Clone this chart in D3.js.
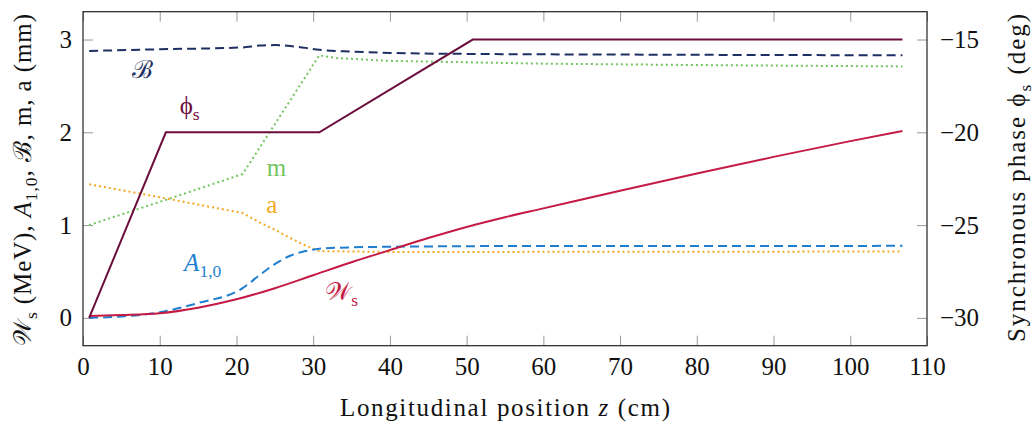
<!DOCTYPE html>
<html>
<head>
<meta charset="utf-8">
<script src="https://cdn.jsdelivr.net/npm/d3@7"></script>
<style>
body { margin: 0; background: #fff; }
text { font-family: "Liberation Serif", "DejaVu Serif", serif; }
</style>
</head>
<body>
<svg id="chart"></svg>
<script>
// longitudinal positions (cm) and values
var zPhi = [0.8, 10.8, 30.8, 50.8, 106.8]
var phiS = [-30, -20, -20, -15, -15]            // deg, right axis

var zW = [0.8, 5, 10, 15, 20, 25, 30, 35, 40, 45, 50, 55, 60, 70, 80, 90, 100, 106.8]
var wS = [0.02, 0.03, 0.05, 0.11, 0.2, 0.32, 0.46, 0.6, 0.73, 0.86, 0.98, 1.085, 1.18, 1.37, 1.555, 1.735, 1.905, 2.015]

var zA = [0.8, 5, 10, 15, 20.8, 23, 25, 27, 29, 30.8, 35, 45, 60, 106.8]
var a10 = [0, 0.015, 0.06, 0.16, 0.32, 0.46, 0.58, 0.67, 0.72, 0.745, 0.76, 0.77, 0.775, 0.776]

var zAp = [0.8, 10, 20.8, 23, 25, 27, 29, 30.8, 40, 106.8]
var aper = [1.44, 1.3, 1.13, 1.03, 0.95, 0.86, 0.78, 0.72, 0.71, 0.715]

var zM = [0.8, 10, 20.8, 30.8, 33, 40, 50, 60, 80, 106.8]
var mod = [1.0, 1.25, 1.55, 2.83, 2.8, 2.77, 2.755, 2.74, 2.725, 2.71]

var zB = [0.8, 10, 20.8, 23, 25, 27, 29, 30.8, 35, 40, 50, 70, 106.8]
var bB = [2.877, 2.895, 2.915, 2.935, 2.94, 2.93, 2.91, 2.89, 2.87, 2.856, 2.845, 2.838, 2.83]

var xTicks = d3.range(0, 111, 10)
var yTicks = [0, 1, 2, 3]
var phiTicks = [-30, -25, -20, -15]

var W = 1036, H = 426
var margin = {top: 11.7, right: 109, bottom: 80.3, left: 83}
var iw = W - margin.left - margin.right,
    ih = H - margin.top - margin.bottom

var svg = d3.select("#chart").attr("width", W).attr("height", H)
var g = svg.append("g").attr("transform", `translate(${margin.left},${margin.top})`)

var x = d3.scaleLinear().domain([0, 110]).range([0, iw]),
    y = d3.scaleLinear().domain([-0.3, 3.3]).range([ih, 0]),
    yPhi = d3.scaleLinear().domain([-31.5, -13.5]).range([ih, 0])

var fs = 25
var serif = '"Liberation Serif", "DejaVu Serif", serif'

function styleAxis(sel) {
    sel.attr("font-family", serif).attr("font-size", fs)
    sel.select(".domain").remove()
    sel.selectAll(".tick line").attr("stroke", "#999").attr("stroke-width", 1)
    sel.selectAll(".tick text").attr("fill", "#111")
}

g.append("g").attr("transform", `translate(0,${ih})`)
    .call(d3.axisBottom(x).tickValues(xTicks).tickSize(-10).tickPadding(11.5))
    .call(styleAxis)
g.append("g")
    .call(d3.axisTop(x).tickValues(xTicks).tickSize(-10).tickFormat(""))
    .call(styleAxis)
g.append("g")
    .call(d3.axisLeft(y).tickValues(yTicks).tickSize(-10).tickPadding(11).tickFormat(d3.format("d")))
    .call(styleAxis)
g.append("g").attr("transform", `translate(${iw},0)`)
    .call(d3.axisRight(yPhi).tickValues(phiTicks).tickSize(-10).tickPadding(13).tickFormat(d3.format("d")))
    .call(styleAxis)

g.append("rect").attr("width", iw).attr("height", ih)
    .attr("fill", "none").attr("stroke", "#222").attr("stroke-width", 1.2)

var series = [
    {xs: zB, ys: bB, color: "#1e2f63", dash: "9,5", scale: y, curve: d3.curveMonotoneX},
    {xs: zM, ys: mod, color: "#72c45e", dash: "2,3", scale: y, curve: d3.curveLinear},
    {xs: zAp, ys: aper, color: "#f2a922", dash: "2,3", scale: y, curve: d3.curveLinear},
    {xs: zA, ys: a10, color: "#1f7fcf", dash: "9,5", scale: y, curve: d3.curveMonotoneX},
    {xs: zW, ys: wS, color: "#c41a43", dash: null, scale: y, curve: d3.curveMonotoneX},
    {xs: zPhi, ys: phiS, color: "#6b0d3d", dash: null, scale: yPhi, curve: d3.curveLinear}
]

series.forEach(s => {
    var line = d3.line()
        .x((d, i) => x(s.xs[i]))
        .y(d => s.scale(d))
        .curve(s.curve)
    g.append("path")
        .attr("d", line(s.ys))
        .attr("fill", "none")
        .attr("stroke", s.color)
        .attr("stroke-width", 2)
        .attr("stroke-dasharray", s.dash)
})

// inline labels
var labels = [
    {z: 7.8, v: 2.59, color: "#1e2f63", parts: [["ℬ"]]},
    {z: 13.9, v: 2.2, color: "#6b0d3d", parts: [["ϕ"], ["s", "sub"]]},
    {z: 25.2, v: 1.53, color: "#72c45e", parts: [["m"]]},
    {z: 24.6, v: 1.13, color: "#f2a922", parts: [["a"]]},
    {z: 15.6, v: 0.5, color: "#1f7fcf", parts: [["A", "it"], ["1,0", "sub"]]},
    {z: 33.7, v: 0.19, color: "#c41a43", parts: [["𝒲"], ["s", "sub"]]}
]

function addParts(t, parts) {
    var down = false
    parts.forEach(p => {
        var ts = t.append("tspan").text(p[0])
        if (p[1] == "sub") {
            ts.attr("font-size", fs * 0.7).attr("dy", 6)
            down = true
        } else {
            if (down) { ts.attr("dy", -6); down = false }
            if (p[1] == "it") ts.attr("font-style", "italic")
        }
    })
}

labels.forEach(l => {
    var t = g.append("text")
        .attr("x", x(l.z)).attr("y", y(l.v))
        .attr("text-anchor", "middle")
        .attr("font-size", fs)
        .attr("fill", l.color)
    addParts(t, l.parts)
})

// axis titles
svg.append("text")
    .attr("x", margin.left + x(55)).attr("y", 416)
    .attr("text-anchor", "middle").attr("font-size", fs).attr("fill", "#111")
    .attr("textLength", 330).attr("lengthAdjust", "spacing")
    .call(t => addParts(t, [["Longitudinal position "], ["z", "it"], [" (cm)"]]))

svg.append("text")
    .attr("transform", "translate(31,180) rotate(-90)")
    .attr("text-anchor", "middle").attr("font-size", fs).attr("fill", "#111")
    .attr("textLength", 332).attr("lengthAdjust", "spacing")
    .call(t => addParts(t, [["𝒲"], ["s", "sub"], [" (MeV), "], ["A", "it"], ["1,0", "sub"], [", ℬ, m, a (mm)"]]))

svg.append("text")
    .attr("transform", "translate(1025,178) rotate(-90)")
    .attr("text-anchor", "middle").attr("font-size", fs).attr("fill", "#111")
    .attr("textLength", 328).attr("lengthAdjust", "spacing")
    .call(t => addParts(t, [["Synchronous phase ϕ"], ["s", "sub"], [" (deg)"]]))
</script>
</body>
</html>
